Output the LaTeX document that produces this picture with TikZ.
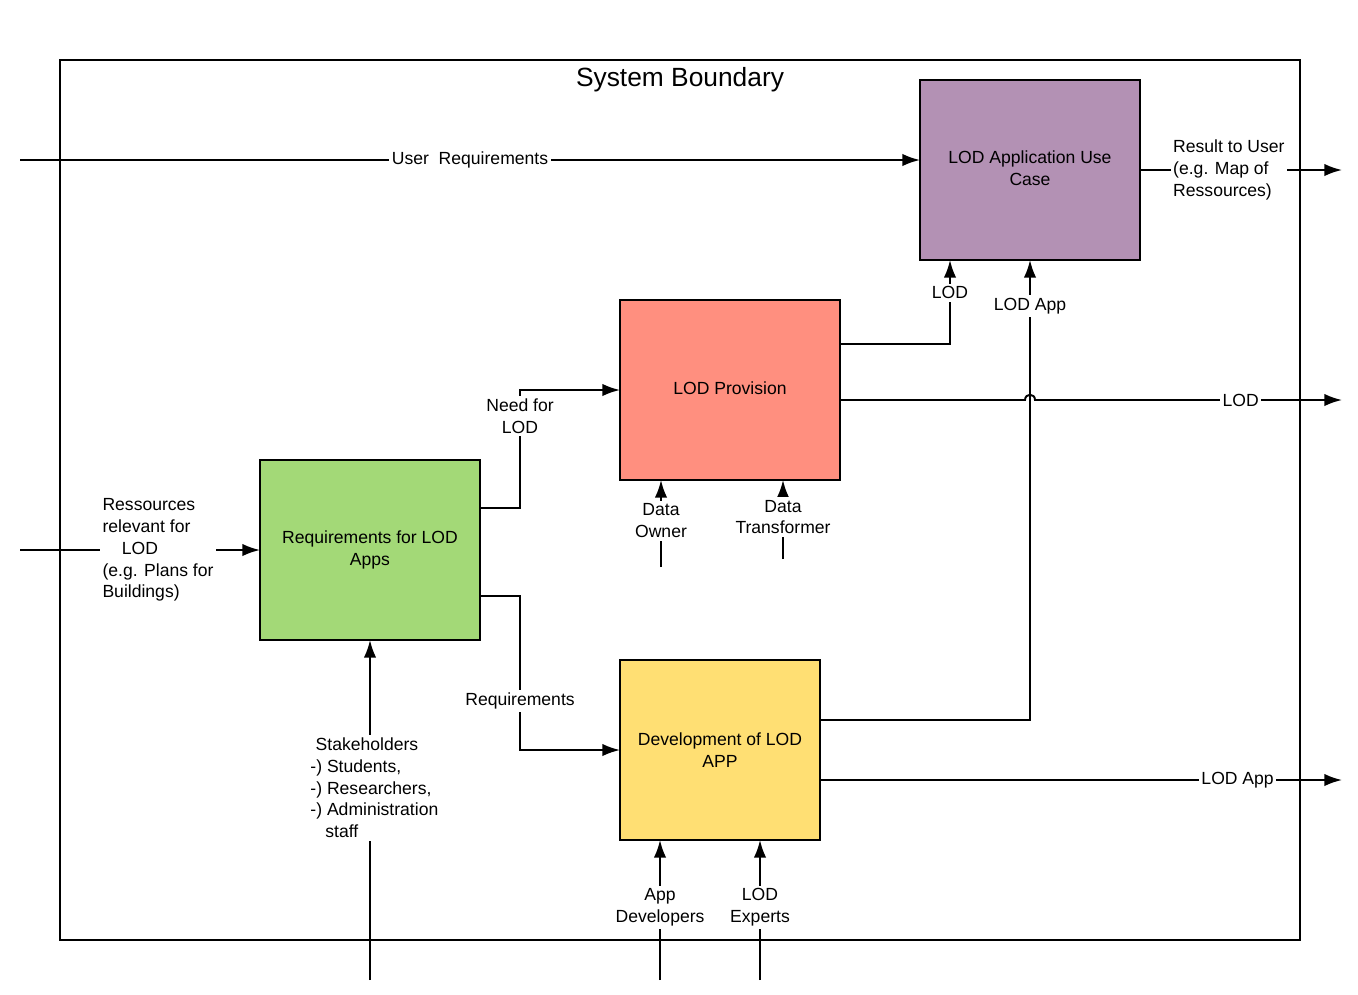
\documentclass[tikz,border=0pt]{standalone}
\usepackage{fontspec}
\setmainfont{Liberation Sans}
\usepackage{xcolor}
\usepackage{tikz}
\usetikzlibrary{arrows.meta,positioning,calc}

\definecolor{appviolet}{HTML}{B391B4}
\definecolor{provred}{HTML}{FF8F7F}
\definecolor{reqgreen}{HTML}{A3D977}
\definecolor{devyellow}{HTML}{FFDF73}

\begin{document}
\begin{tikzpicture}[x=0.02cm, y=-0.02cm, line width=1.1pt, >={Latex[length=10pt,width=7pt]},
                        font=\fontsize{10}{12.4}\selectfont,
                        block/.style={draw, minimum width=4.4cm, minimum height=3.6cm, align=center, text=black, outer sep=0pt},
                        lbl/.style={fill=white, inner sep=1.5pt, align=center, text=black}]
                        \useasboundingbox (0,0) rectangle (1358,994);
                        \node (title) at (680,80) {\fontsize{15}{18}\selectfont System Boundary};
                        \node[block, fill=appviolet] (app) at (1030,170) {LOD Application Use\\Case\vphantom{g}\raisebox{3pt}{}};
                        \node[block, fill=provred] (prov) at (730,390) {LOD Provision\vphantom{g}};
                        \node[block, fill=reqgreen] (req) at (370,550) {Requirements for LOD\\Apps};
                        \node[block, fill=devyellow, minimum width=4cm] (dev) at (720,750) {Development of LOD\\APP};
                        \coordinate (ureq) at (20,160);
                        \coordinate (res) at (1342,170);
                        \coordinate (lodc) at (950,344);
                        \coordinate (appc) at (1030,720);
                        \coordinate (hop) at (1030,400);
                        \coordinate (lodout) at (1342,400);
                        \coordinate (needc) at (520,508);
                        \coordinate (reqc) at (520,596);
                        \coordinate (appout) at (1342,780);
                        \coordinate (resin) at (20,550);
                        \coordinate (stake) at (370,980);
                        \coordinate (downer) at (661,567);
                        \coordinate (dtrans) at (783,559);
                        \coordinate (appdev) at (660,980);
                        \coordinate (lodexp) at (760,980);
                        \draw [->] (ureq) -- node[lbl, pos=.5] {User~ Requirements} (ureq -| app.west);
                        \draw [->] (app.east) -- node[lbl, pos=.44, align=left] {Result to User\\(e.g. Map of\\Ressources)} (res);
                        \draw [->] (prov.east |- lodc) -- (lodc) -- node[lbl, pos=.61] {LOD} (lodc |- app.south);
                        \draw [->] (dev.east |- appc) -- (appc) -- node[lbl, pos=.9] {LOD App} (appc |- app.south);
                        \draw [->] (prov.east |- hop) -- ($(hop)+(-5,0)$) .. controls ($(hop)+(-5,-7)$) and ($(hop)+(5,-7)$) .. ($(hop)+(5,0)$) -- node[lbl, pos=.67] {LOD} (lodout);
                        \draw [->] (req.east |- needc) -- (needc) |- node[lbl, pos=.39] {Need for\\LOD} (prov.west);
                        \draw [->] (req.east |- reqc) -- (reqc) |- node[lbl, pos=.34] {Requirements} (dev.west);
                        \draw [->] (dev.east |- appout) -- node[lbl, pos=.8] {LOD App} (appout);
                        \draw [->] (resin) -- node[lbl, pos=.575, align=left] {Ressources\\relevant for\\\hspace{11pt}LOD\\(e.g. Plans for\\Buildings)} (req.west);
                        \draw [->] (stake) -- node[lbl, pos=.565, align=left, xshift=2.5pt] {\hspace{3pt}Stakeholders\\-) Students,\\-) Researchers,\\-) Administration\\\hspace{8.5pt}staff} (req.south);
                        \draw [->] (downer) -- node[lbl, pos=.53] {Data\\Owner} (downer |- prov.south);
                        \draw [->] (dtrans) -- node[lbl, pos=.53] {Data\\Transformer} (dtrans |- prov.south);
                        \draw [->] (appdev) -- node[lbl, pos=.52] {App\\Developers} (appdev |- dev.south);
                        \draw [->] (lodexp) -- node[lbl, pos=.52] {LOD\\Experts} (lodexp |- dev.south);
                        \draw (60,60) rectangle (1300,940);
                        \end{tikzpicture}
\end{document}
